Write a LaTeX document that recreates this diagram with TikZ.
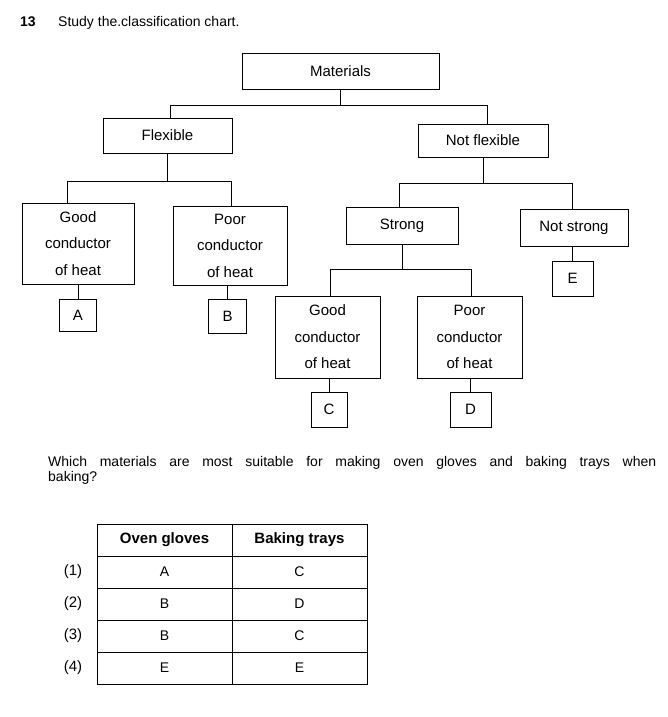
\documentclass[tikz,border=0pt]{standalone}
\usepackage{fontspec}
\setmainfont{Liberation Sans}
\tikzset{
  catbox/.style={draw, line width=1pt, inner sep=0pt, align=center, font=\fontsize{15}{26.5}\selectfont},
  letterbox/.style={draw, line width=1pt, inner sep=0pt, font=\fontsize{15}{18}\selectfont},
  branch/.style={line width=1pt},
  cell/.style={draw, line width=1pt, inner sep=0pt, minimum width=135pt, minimum height=32pt, font=\fontsize{14}{16}\selectfont},
}
\begin{document}
\begin{tikzpicture}[x=1pt, y=-1pt]
  \useasboundingbox (0,0) rectangle (667,717);
  % heading
  \node[anchor=base west, inner sep=0pt, font=\bfseries\fontsize{14}{16}\selectfont] (num) at (20,27) {13};
  \node[anchor=base west, inner sep=0pt, font=\fontsize{14}{16}\selectfont] (title) at (58,27) {Study the.classification chart.};

  % classification chart
  \node[catbox, minimum width=197pt, minimum height=35pt] (mat) at (340.5,71.5) {Materials};
  \node[catbox, minimum width=129pt, minimum height=35pt] (flex) at (167.5,135.5) {Flexible};
  \node[catbox, minimum width=130pt, minimum height=33pt] (nflex) at (483,140.5) {Not flexible};
  \node[catbox, minimum width=112pt, minimum height=81pt] (goodA) at (78,243.5) {Good\\conductor\\of heat};
  \node[catbox, minimum width=114pt, minimum height=79pt] (poorB) at (230,245.5) {Poor\\conductor\\of heat};
  \node[catbox, minimum width=112pt, minimum height=37pt] (strong) at (402,225.5) {Strong};
  \node[catbox, minimum width=108pt, minimum height=37pt] (nstrong) at (574,227.5) {Not strong};
  \node[catbox, minimum width=105pt, minimum height=82pt] (goodC) at (327.5,337) {Good\\conductor\\of heat};
  \node[catbox, minimum width=105pt, minimum height=82pt] (poorD) at (469.5,337) {Poor\\conductor\\of heat};

  \node[letterbox, minimum width=37pt, minimum height=32pt] (boxA) at (78,315) {A};
  \node[letterbox, minimum width=38pt, minimum height=34pt] (boxB) at (227.5,316) {B};
  \node[letterbox, minimum width=41pt, minimum height=35pt] (boxE) at (572.5,278.5) {E};
  \node[letterbox, minimum width=36pt, minimum height=35pt] (boxC) at (329,409.5) {C};
  \node[letterbox, minimum width=41pt, minimum height=35pt] (boxD) at (470.5,409.5) {D};

  % branches
  \coordinate (bar1l) at (170,105);
  \coordinate (bar1r) at (487,105);
  \coordinate (bar2l) at (67,181);
  \coordinate (bar2r) at (231,181);
  \coordinate (bar3l) at (399,183);
  \coordinate (bar3r) at (572,183);
  \coordinate (bar4l) at (330,269);
  \coordinate (bar4r) at (471,269);

  \draw[branch] (mat.south) -- (mat.south |- bar1l);
  \draw[branch] (bar1l |- flex.north) -- (bar1l) -- (bar1r) -- (bar1r |- nflex.north);
  \draw[branch] (flex.south) -- (flex.south |- bar2l);
  \draw[branch] (bar2l |- goodA.north) -- (bar2l) -- (bar2r) -- (bar2r |- poorB.north);
  \draw[branch] (nflex.south) -- (nflex.south |- bar3l);
  \draw[branch] (bar3l |- strong.north) -- (bar3l) -- (bar3r) -- (bar3r |- nstrong.north);
  \draw[branch] (strong.south) -- (strong.south |- bar4l);
  \draw[branch] (bar4l |- goodC.north) -- (bar4l) -- (bar4r) -- (bar4r |- poorD.north);

  \draw[branch] (goodA.south) -- (boxA.north);
  \draw[branch] (boxB.north) -- (boxB.north |- poorB.south);
  \draw[branch] (boxE.north) -- (boxE.north |- nstrong.south);
  \draw[branch] (boxC.north) -- (boxC.north |- goodC.south);
  \draw[branch] (boxD.north) -- (boxD.north |- poorD.south);

  % question
  \node[anchor=north west, inner sep=0pt, text width=608pt, align=justify, font=\fontsize{14}{14.5}\selectfont] (quest) at (48,456.5)
    {Which materials are most suitable for making oven gloves and baking trays when\linebreak baking?};

  % answer table
  \node[cell, font=\bfseries\fontsize{15}{17}\selectfont] (hgloves) at (164.5,540) {Oven gloves};
  \node[cell, font=\bfseries\fontsize{15}{17}\selectfont] (htrays) at (299.5,540) {Baking trays};
  \foreach \r/\g/\b [count=\i] in {1/A/C, 2/B/D, 3/B/C, 4/E/E} {
    \node[font=\fontsize{15}{17}\selectfont] (lab\i) at (73,540+32*\i) {(\r)};
    \node[cell] (gloves\i) at (164.5,540+32*\i) {\g};
    \node[cell] (trays\i) at (299.5,540+32*\i) {\b};
  }
\end{tikzpicture}
\end{document}
